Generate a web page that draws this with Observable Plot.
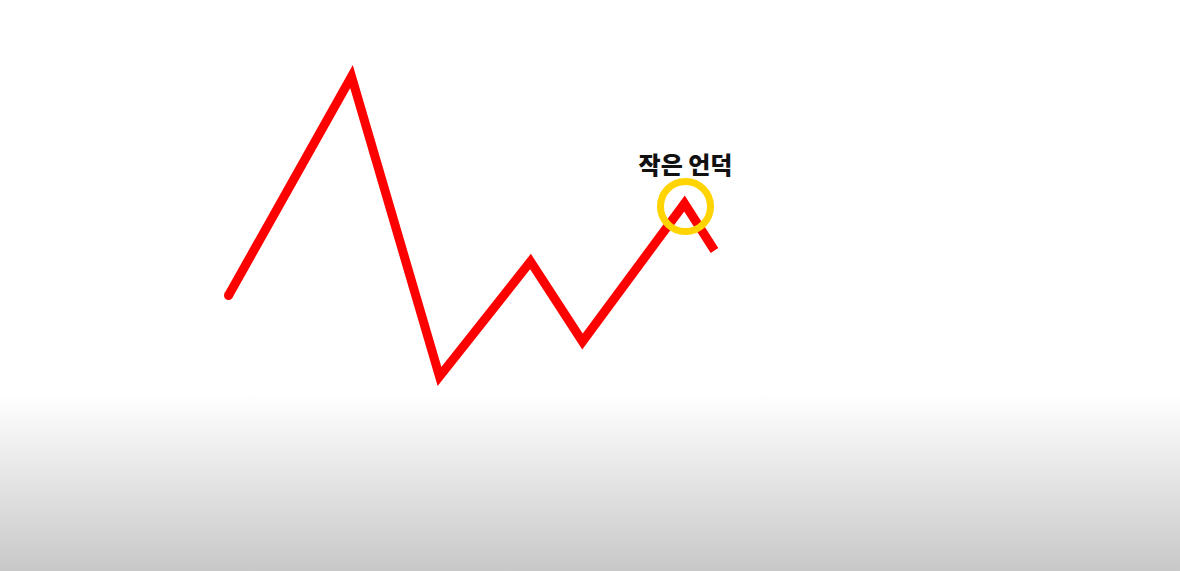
<!DOCTYPE html>
<html>
<head>
<meta charset="utf-8">
<script src="https://cdn.jsdelivr.net/npm/d3@7"></script>
<script src="https://cdn.jsdelivr.net/npm/@observablehq/plot@0.6"></script>
<style>
  html, body { margin: 0; padding: 0; }
  body {
    width: 1180px; height: 571px; overflow: hidden;
    background: linear-gradient(to bottom, #ffffff 0px, #ffffff 395px, #c8c8c8 571px);
  }
</style>
</head>
<body>
<div id="chart"></div>
<script>
// Path positions (x along the time axis, y = level, up is higher)
const pointX = [228, 351, 439, 530, 582, 684, 714];
const pointY = [276, 495, 195, 310, 230, 368, 321];
// Highlighted point: the small hill
const hillX = [685];
const hillY = [365];
const labelText = ["작은 언덕"];
const labelY = [405];

const series = pointX.map((x, i) => ({x, y: pointY[i]}));
const hill = hillX.map((x, i) => ({x, y: hillY[i]}));
const labels = labelText.map((t, i) => ({x: hillX[i], y: labelY[i], t}));

const chart = Plot.plot({
  width: 1180,
  height: 571,
  margin: 0,
  x: {domain: [0, 1180], axis: null},
  y: {domain: [0, 571], axis: null},
  style: {background: "none", overflow: "visible"},
  marks: [
    Plot.line(series, {x: "x", y: "y", stroke: "#ff0000", strokeWidth: 9,
      strokeLinejoin: "miter", strokeLinecap: "butt", strokeMiterlimit: 10}),
    Plot.dot(series.slice(0, 1), {x: "x", y: "y", r: 4.5, fill: "#ff0000", stroke: "none"}),
    Plot.dot(hill, {x: "x", y: "y", r: 25, stroke: "#ffd400", strokeWidth: 7, fill: "none"}),
    Plot.text(labels, {x: "x", y: "y", text: "t", fontSize: 24, fontWeight: 900,
      fill: "#111111", fontFamily: "'Noto Sans CJK KR', sans-serif", lineAnchor: "middle"})
  ]
});
document.getElementById("chart").appendChild(chart);
</script>
</body>
</html>
